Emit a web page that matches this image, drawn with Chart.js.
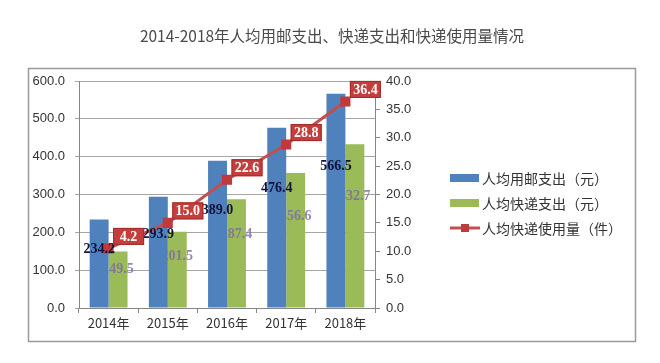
<!DOCTYPE html>
<html><head><meta charset="utf-8">
<script src="https://cdn.jsdelivr.net/npm/chart.js@4.4.1/dist/chart.umd.min.js"></script>
<style>
html,body{margin:0;padding:0;background:#fff;}
#wrap{width:660px;height:363px;position:relative;}
#legend{position:absolute;left:450px;top:165px;font-family:"Noto Sans CJK SC";font-size:14px;color:#333;}
#legend .row{height:25px;display:flex;align-items:center;white-space:nowrap;}
#legend canvas{margin-right:2px;display:block;}
</style>
</head><body><div id="wrap"><canvas id="c"></canvas><div id="legend"></div></div>
<script>
const chartTitle = '2014-2018年人均用邮支出、快递支出和快递使用量情况';
const categories = ['2014年', '2015年', '2016年', '2017年', '2018年'];
const seriesNames = ['人均用邮支出（元）', '人均快递支出（元）', '人均快递使用量（件）'];
const postalSpend = [234.2, 293.9, 389.0, 476.4, 566.5];
const expressSpend = [149.5, 201.5, 287.4, 356.6, 432.7];
const expressUsage = [10.5, 15.0, 22.6, 28.8, 36.4];
// label texts as printed on the picture (first box is truncated in the original)
const usageLabels = ['4.2', '15.0', '22.6', '28.8', '36.4'];
const leftTicks = [0, 100, 200, 300, 400, 500, 600];
const rightTicks = [0, 5, 10, 15, 20, 25, 30, 35, 40];

const BLUE = '#4f81bd', GREEN = '#9bbb59', RED = '#c0504d';

function icon(kind, color) {
  const c = document.createElement('canvas');
  c.width = 30; c.height = 10;
  const g = c.getContext('2d');
  if (kind === 'bar') {
    g.fillStyle = color; g.fillRect(0, 1, 29, 8);
  } else {
    g.strokeStyle = color; g.lineWidth = 3;
    g.beginPath(); g.moveTo(0, 5); g.lineTo(30, 5); g.stroke();
    g.fillStyle = '#c0393b'; g.fillRect(11, 1, 8, 8);
  }
  return c;
}

const framePlugin = {
  id: 'frame',
  beforeDraw(chart) {
    const ctx = chart.ctx;
    ctx.save();
    ctx.fillStyle = '#fff';
    ctx.fillRect(0, 0, chart.width, chart.height);
    ctx.strokeStyle = '#9a9a9a'; ctx.lineWidth = 1.5;
    ctx.strokeRect(28.5, 68.5, 607, 273);
    ctx.font = '15.5px "Noto Sans CJK SC"';
    ctx.fillStyle = '#4a4a4a';
    ctx.textAlign = 'center'; ctx.textBaseline = 'middle';
    ctx.fillText(chartTitle, 332, 36);
    ctx.restore();
  }
};

const labelPlugin = {
  id: 'valueLabels',
  afterDatasetDraw(chart, args) {
    // green labels sit under the blue bars, as in the original
    if (args.index !== 1) return;
    const ctx = chart.ctx;
    ctx.save();
    ctx.textAlign = 'center'; ctx.textBaseline = 'middle';
    ctx.font = 'bold 14px "Liberation Serif"';
    ctx.fillStyle = 'rgba(125,105,165,0.8)';
    args.meta.data.forEach((bar, k) => {
      const y = bar.base - (bar.base - bar.y) * 0.68;
      ctx.fillText(expressSpend[k].toFixed(1), bar.x, y);
    });
    ctx.restore();
  },
  afterDatasetsDraw(chart) {
    const ctx = chart.ctx;
    ctx.save();
    ctx.textAlign = 'center'; ctx.textBaseline = 'middle';
    ctx.font = 'bold 14px "Liberation Serif"';
    ctx.fillStyle = '#12123a';
    chart.getDatasetMeta(0).data.forEach((bar, k) => {
      const y = bar.base - (bar.base - bar.y) * 0.66;
      ctx.fillText(postalSpend[k].toFixed(1), bar.x, y);
    });
    chart.getDatasetMeta(2).data.forEach((pt, k) => {
      const cx = pt.x + 20, cy = pt.y - 12;
      const w = 31, h = 17;
      ctx.fillStyle = '#c43e3c';
      ctx.fillRect(cx - w / 2, cy - h / 2, w, h);
      ctx.strokeStyle = '#a02c2c'; ctx.lineWidth = 1;
      ctx.strokeRect(cx - w / 2 + 0.5, cy - h / 2 + 0.5, w - 1, h - 1);
      ctx.fillStyle = '#ffffff';
      ctx.fillText(usageLabels[k], cx, cy + 1);
    });
    ctx.restore();
  }
};

const tickFont = { family: '"Liberation Sans"', size: 13 };

const chart = new Chart(document.getElementById('c'), {
  data: {
    labels: categories,
    datasets: [
      { type: 'bar', label: seriesNames[0], data: postalSpend, backgroundColor: BLUE, yAxisID: 'y', order: 1,
        categoryPercentage: 0.64, barPercentage: 1.0 },
      { type: 'bar', label: seriesNames[1], data: expressSpend, backgroundColor: GREEN, yAxisID: 'y', order: 2,
        categoryPercentage: 0.64, barPercentage: 1.0 },
      { type: 'line', label: seriesNames[2], data: expressUsage, yAxisID: 'y1', order: 0,
        borderColor: RED, borderWidth: 3, pointStyle: 'rect', pointRadius: 5,
        pointBackgroundColor: '#c0393b', pointBorderColor: '#c0393b', tension: 0 }
    ]
  },
  options: {
    responsive: true, maintainAspectRatio: false, devicePixelRatio: 1, animation: false,
    layout: { padding: { left: 28, right: 217, top: 81, bottom: 20 } },
    plugins: {
      title: { display: false },
      tooltip: { enabled: false },
      legend: { display: false }
    },
    scales: {
      x: {
        grid: { offset: true, drawOnChartArea: false, tickLength: 5, color: '#868686' },
        border: { color: '#868686' },
        ticks: { font: { family: '"Noto Sans CJK SC"', size: 13 }, color: '#333', padding: 2 },
        afterFit(s) { s.height = 35; }
      },
      y: {
        position: 'left', min: 0, max: 600,
        afterBuildTicks(s) { s.ticks = leftTicks.map(v => ({ value: v })); },
        ticks: { font: tickFont, color: '#333', padding: 10, callback: v => Number(v).toFixed(1) },
        grid: { color: '#a6a6a6', tickLength: 4 },
        border: { color: '#868686' },
        afterFit(s) { s.width = 51; }
      },
      y1: {
        position: 'right', min: 0, max: 40,
        afterBuildTicks(s) { s.ticks = rightTicks.map(v => ({ value: v })); },
        ticks: { font: tickFont, color: '#333', padding: 6, callback: v => Number(v).toFixed(1) },
        grid: { drawOnChartArea: false, tickLength: 5, color: '#868686' },
        border: { color: '#868686' },
        afterFit(s) { s.width = 68; }
      }
    }
  },
  plugins: [framePlugin, labelPlugin]
});

// legend built from the chart's datasets
const legendEl = document.getElementById('legend');
const kinds = ['bar', 'bar', 'line'];
chart.data.datasets.forEach((ds, i) => {
  const row = document.createElement('div');
  row.className = 'row';
  row.appendChild(icon(kinds[i], i === 2 ? ds.borderColor : ds.backgroundColor));
  const span = document.createElement('span');
  span.textContent = ds.label;
  row.appendChild(span);
  legendEl.appendChild(row);
});
</script>
</body></html>
